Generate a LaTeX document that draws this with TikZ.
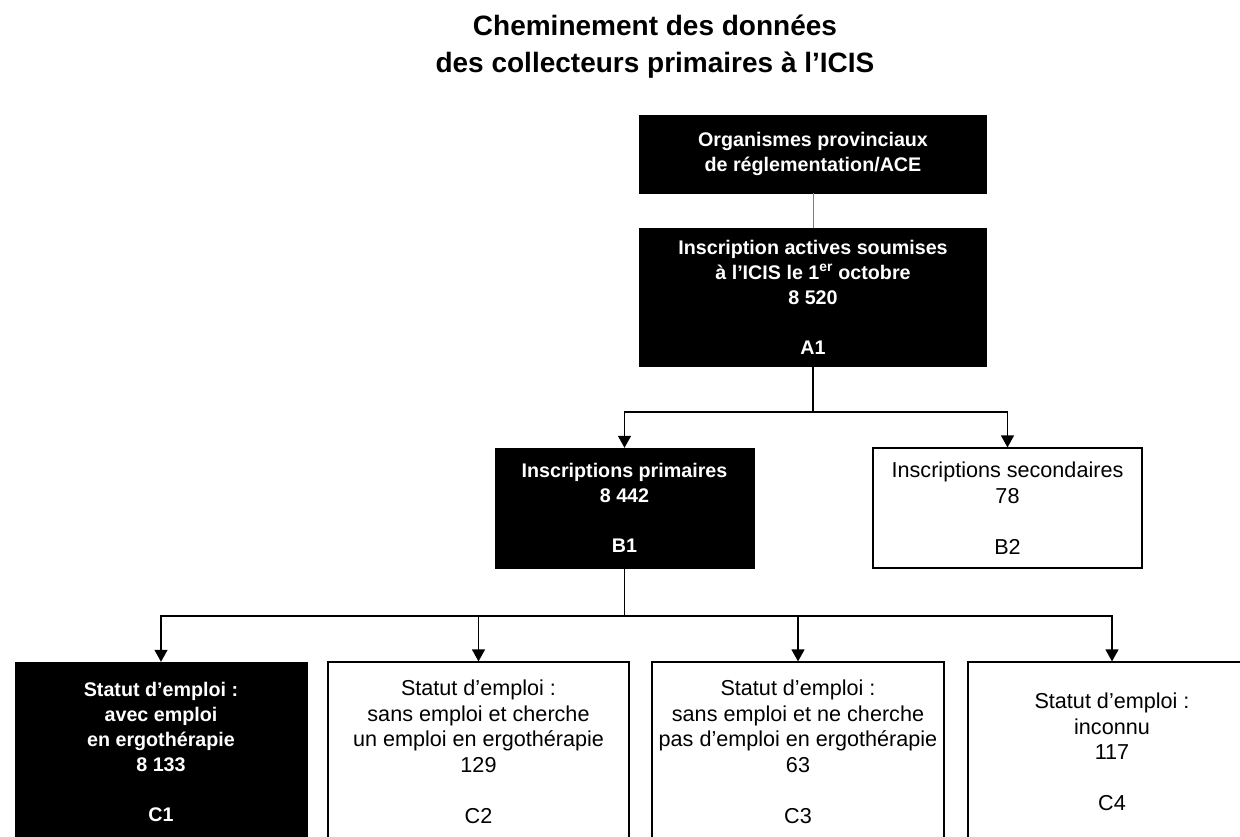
\documentclass[tikz,border=0pt]{standalone}
\usepackage{fontspec}
\setmainfont{Liberation Sans}
\usetikzlibrary{arrows.meta}
\begin{document}
\begin{tikzpicture}[x=1pt,y=-1pt,
  darkbox/.style={fill=black,draw=black,text=white,font=\fontsize{19.7}{25}\selectfont\bfseries,align=center,inner sep=0pt},
  lightbox/.style={fill=white,draw=black,line width=1.2pt,text=black,font=\fontsize{21.6}{25.6}\selectfont,align=center,inner sep=0pt},
  titletext/.style={anchor=base,font=\fontsize{28}{37}\selectfont\bfseries},
  conn/.style={line width=1.3pt},
  arr/.style={conn,-{Triangle[width=13pt,length=12pt]}}]
\useasboundingbox (0,0) rectangle (1240,836);

\node[titletext] (t1) at (655,35) {Cheminement des données};
\node[titletext] (t2) at (655,72) {des collecteurs primaires à l’ICIS};

\node[darkbox,minimum width=347pt,minimum height=78pt] (O) at (813,154)
  {Organismes provinciaux\\de réglementation/ACE};
\node[darkbox,minimum width=347pt,minimum height=138pt] (A1) at (813,297)
  {Inscription actives soumises\\à l’ICIS le 1\textsuperscript{er} octobre\\8 520\\[25pt]A1};
\node[darkbox,minimum width=259pt,minimum height=120pt] (B1) at (624.5,508)
  {Inscriptions primaires\\8 442\\[25pt]B1};
\node[lightbox,minimum width=269pt,minimum height=120pt] (B2) at (1007.5,508)
  {Inscriptions secondaires\\78\\[25.6pt]B2};
\node[darkbox,minimum width=292pt,minimum height=180pt] (C1) at (161,752)
  {Statut d’emploi :\\avec emploi\\en ergothérapie\\8 133\\[25pt]C1};
\node[lightbox,minimum width=301pt,minimum height=180pt] (C2) at (478.5,752)
  {Statut d’emploi :\\sans emploi et cherche\\un emploi en ergothérapie\\129\\[25.6pt]C2};
\node[lightbox,minimum width=292pt,minimum height=180pt] (C3) at (798,752)
  {Statut d’emploi :\\sans emploi et ne cherche\\pas d’emploi en ergothérapie\\63\\[25.6pt]C3};
\node[lightbox,minimum width=288pt,minimum height=180pt] (C4) at (1112,752)
  {Statut d’emploi :\\inconnu\\117\\[25.6pt]C4};

\draw[line width=0.8pt,gray] (O) -- (A1);

\coordinate (jA) at (813,412);
\draw[conn] (A1.south) -- (jA);
\draw[arr] (jA) -| (B1.north);
\draw[arr] (jA) -| (B2.north);

\coordinate (jB) at (624.5,616);
\draw[conn] (B1.south) -- (jB);
\draw[arr] (jB) -| (C1.north);
\draw[arr] (jB) -| (C2.north);
\draw[arr] (jB) -| (C3.north);
\draw[arr] (jB) -| (C4.north);
\end{tikzpicture}
\end{document}
